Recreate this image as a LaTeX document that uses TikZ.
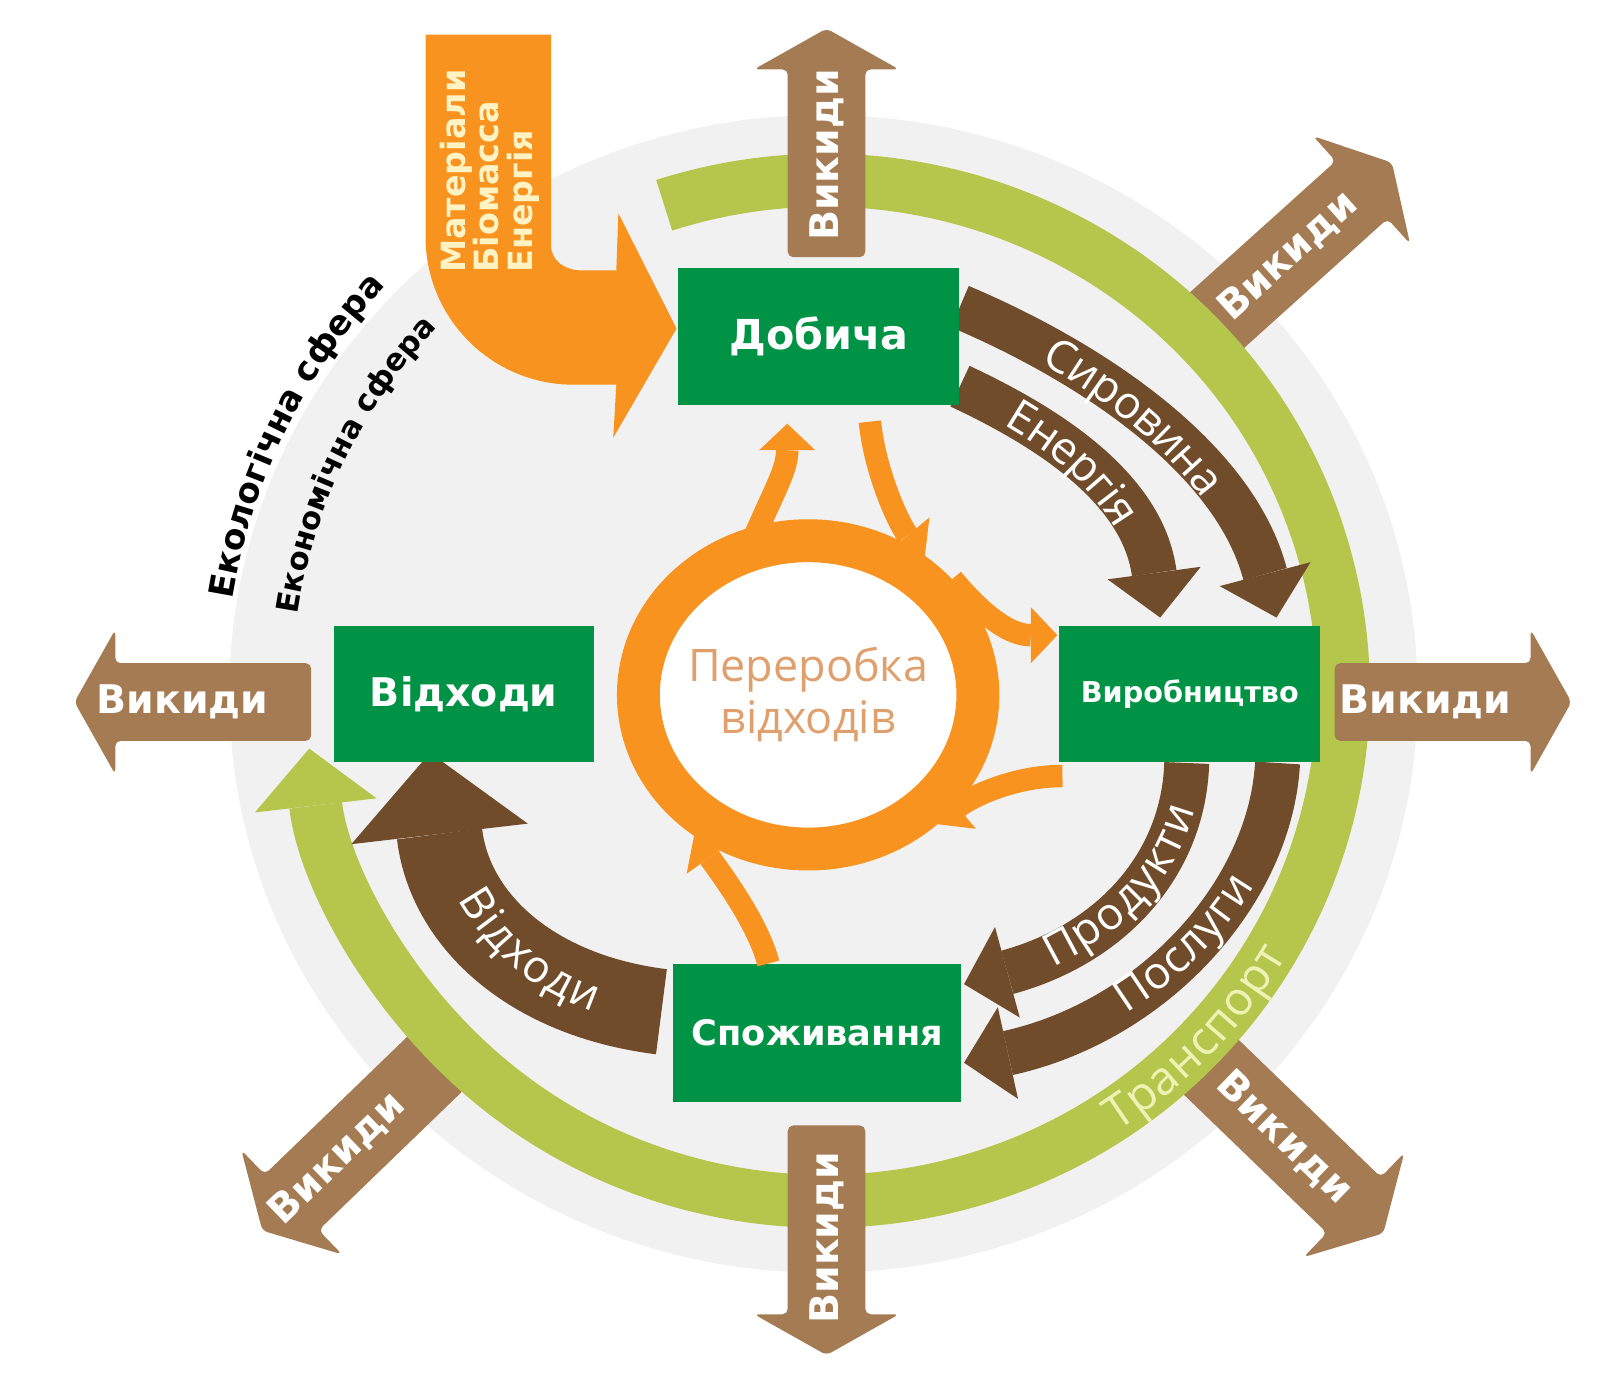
\documentclass[tikz,border=0pt]{standalone}
\usepackage{fontspec}
\setmainfont{Open Sans}
\newfontfamily\heavy{DejaVu Sans}
\usetikzlibrary{arrows.meta,calc,decorations.text,shapes.geometric}
\pgfdeclarelayer{back}
\pgfdeclarelayer{flows}
\pgfsetlayers{back,flows,main}
\definecolor{boxgreen}{RGB}{0,146,69}
\definecolor{soil}{RGB}{113,76,43}
\definecolor{smoke}{RGB}{164,123,82}
\definecolor{pumpkin}{RGB}{247,147,30}
\definecolor{moss}{RGB}{180,199,76}
\definecolor{haze}{RGB}{241,241,241}
\definecolor{cream}{RGB}{255,243,196}
\definecolor{lime}{RGB}{238,243,181}
\definecolor{clay}{RGB}{224,160,110}
\begin{document}
\begin{tikzpicture}[x=0.01cm, y=0.01cm, line join=round,
    box/.style={fill=boxgreen, text=white, inner sep=0pt, minimum height=1.34cm},
    flow/.style={draw=soil, line width=0.44cm, -{Triangle[width=0.92cm, length=0.44cm, line width=0pt]}},
    twig/.style={draw=pumpkin, line width=0.22cm, -{Triangle[width=0.55cm, length=0.26cm, line width=0pt]}},
    vtext/.style={text=white, inner sep=0pt, font=\heavy\bfseries\fontsize{11}{13}\selectfont},
    along/.style={decorate, decoration={text along path, text color=white, raise=-4pt, text={|\lbl|#1}}}]
  \def\lbl{\fontsize{12.5}{15}\selectfont}
  % name, base, angle, length, text angle, text position
  \def\vykyd#1#2#3#4#5#6{%
    \begin{scope}[shift={#2}, rotate=#3]
      \fill[smoke, rounded corners=1.5pt] (0,-38) -- (#4-40,-38) -- (#4-40,-71) -- (#4,0)
        -- (#4-40,71) -- (#4-40,38) -- (0,38) -- cycle;
      \node[vtext, rotate=#5] (#1) at (#6,0) {Викиди};
    \end{scope}}
  \useasboundingbox (-808,-690) rectangle (760,680);

  \begin{pgfonlayer}{back}
  \fill[haze] (-1,0) ellipse [x radius=5.82cm, y radius=5.67cm]; % background disc

  % emissions under the transport ring
  \vykyd{vur}{(380,362)}{42}{237}{42}{100}
  \vykyd{vlr}{(375,-362)}{-44}{240}{-44}{105}
  \vykyd{vll}{(-379,-360)}{224}{239}{44}{137}

  % transport ring
  \begin{scope}[shift={(0,3)}]
    \draw[moss, line width=0.52cm, -{Triangle[width=1.2cm, length=0.56cm, line width=0pt]}]
      (108:5.08cm and 5cm) arc[start angle=108, end angle=-173.5, x radius=5.08cm, y radius=5cm];
    \path[decorate, decoration={text along path, text align=center, text color=lime, raise=-4.5pt,
      text={|\fontsize{13}{15}\selectfont|Транспорт}}]
      (-63:5.08cm and 5cm) arc[start angle=-63, end angle=-24, x radius=5.08cm, y radius=5cm];
  \end{scope}

  \vykyd{vtop}{(2,428)}{90}{224}{90}{100}
  \vykyd{vbot}{(2,-423)}{-90}{225}{90}{110}
  \vykyd{vright}{(500,-8)}{0}{232}{0}{89}
  \vykyd{vleft}{(-503,-8)}{180}{232}{0}{126}

  % inflow from nature
  \fill[pumpkin] (-391,646) -- (-268,646) -- (-268,440) .. controls (-268,424) and (-254,415) .. (-238,415)
    -- (-204,415) -- (-202,471) -- (-145,358) -- (-207,251) -- (-204,303) -- (-246,303)
    .. controls (-326,303) and (-391,368) .. (-391,448) -- cycle;
  \node[rotate=90, anchor=west, align=left, inner sep=0pt, text=cream,
    font=\heavy\bfseries\fontsize{9.3}{9.4}\selectfont] (inflow) at (-328,412) {Матеріали\\Біомасса\\Енергія};
  \end{pgfonlayer}

  % stages
  \node[box, minimum width=2.75cm, font=\heavy\bfseries\fontsize{11.5}{13}\selectfont] (dobycha) at (-5.5,350.5) {Добича};
  \node[box, minimum width=2.56cm, minimum height=1.33cm, font=\heavy\bfseries\fontsize{8}{10}\selectfont] (vyrob) at (358,-0.5) {Виробництво};
  \node[box, minimum width=2.82cm, minimum height=1.35cm, font=\heavy\bfseries\fontsize{9.8}{12}\selectfont] (spozh) at (-7,-332.5) {Споживання};
  \node[box, minimum width=2.55cm, minimum height=1.33cm, font=\heavy\bfseries\fontsize{11}{13}\selectfont] (vidkhody) at (-353.5,-0.5) {Відходи};

  % economic flows
  \begin{pgfonlayer}{flows}
  \draw[flow] ($(dobycha.east)+(0,29)$) .. controls +(130,-55) and +(-41,156) .. ($(vyrob.north)+(85,8)$);
  \path[along=Сировина, decoration={text align={center, right indent=0.44cm}}]
    ($(dobycha.east)+(0,29)$) .. controls +(130,-55) and +(-41,156) .. ($(vyrob.north)+(85,8)$);
  \draw[flow] ($(dobycha.east)+(0,-49)$) .. controls +(88,-41) and +(-17,126) .. ($(vyrob.north)+(-29,8)$);
  \path[along=Енергія, decoration={text align={center, right indent=0.44cm}}]
    ($(dobycha.east)+(0,-49)$) .. controls +(88,-41) and +(-17,126) .. ($(vyrob.north)+(-29,8)$);
  \draw[flow] ($(vyrob.south)+(-3,0)$) .. controls +(-3,-98) and +(146,40) .. ($(spozh.east)+(2,48)$);
  \path[along=Продукти, decoration={reverse path, text align={center, left indent=0.44cm}}]
    ($(vyrob.south)+(-3,0)$) .. controls +(-3,-98) and +(146,40) .. ($(spozh.east)+(2,48)$);
  \draw[flow] ($(vyrob.south)+(86,0)$) .. controls +(-7,-127) and +(186,41) .. ($(spozh.east)+(2,-29)$);
  \path[along=Послуги, decoration={reverse path, text align={center, left indent=0.44cm}}]
    ($(vyrob.south)+(86,0)$) .. controls +(-7,-127) and +(186,41) .. ($(spozh.east)+(2,-29)$);
  \draw[flow, line width=0.84cm, -{Triangle[width=1.74cm, length=0.8cm, line width=0pt]}]
    ($(spozh.west)+(-11,21)$) .. controls +(-129,16) and +(19,-163) .. ($(vidkhody.south)+(-33,10)$);
  \path[along=Відходи, decoration={reverse path, text align={center, left indent=0.8cm}}]
    ($(spozh.west)+(-11,21)$) .. controls +(-129,16) and +(19,-163) .. ($(vidkhody.south)+(-33,10)$);
  \end{pgfonlayer}

  % recycling loop
  \node[ellipse, draw=pumpkin, line width=0.42cm, fill=white, minimum width=3.32cm, minimum height=3.02cm,
    inner sep=0pt, text=clay, align=center, font=\fontsize{12.5}{14.5}\selectfont] (recycle) at (-16,-1) {Переробка\\відходів};
  \draw[twig, shorten <=-0.12cm] (recycle.106) .. controls +(15,35) and +(0,-45) .. ($(dobycha.south)+(-31,-18)$);
  \draw[twig] ($(dobycha.south)+(50,-16)$) .. controls +(5,-50) and +(-25,30) .. (recycle.50);
  \draw[twig, shorten <=-0.12cm] (recycle.35) .. controls +(25,-30) and +(-45,0) .. ($(vyrob.west)+(-1,58)$);
  \draw[twig] ($(vyrob.west)+(4,-80)$) .. controls +(-50,0) and +(30,25) .. (recycle.-45);
  \draw[twig] ($(spozh.north)+(-48,0)$) .. controls +(-10,40) and +(25,-35) .. (recycle.231);

  % spheres
  \path[decorate, decoration={text along path, text align=center,
    text={|\heavy\bfseries\fontsize{9.5}{11}\selectfont|Екологічна сфера}}]
    (172:5.87cm) arc[start angle=172, end angle=136, radius=5.87cm];
  \path[decorate, decoration={text along path, text align=center,
    text={|\heavy\bfseries\fontsize{8.5}{10}\selectfont|Економічна сфера}}]
    (172:5.22cm) arc[start angle=172, end angle=136, radius=5.22cm];
\end{tikzpicture}
\end{document}
